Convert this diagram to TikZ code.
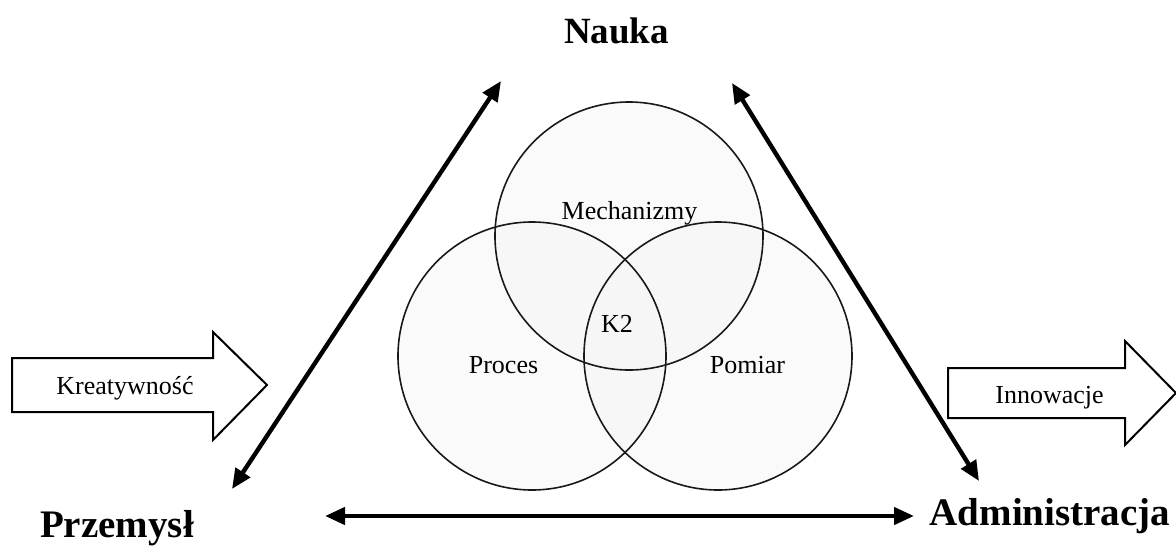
\documentclass[tikz,border=0pt]{standalone}
\usepackage{fontspec}
\setmainfont{Liberation Serif}
\usetikzlibrary{arrows.meta}
\tikzset{
  ringfill/.style={fill=black!4, fill opacity=0.5},
  ringline/.style={draw=black!90, line width=1.6pt},
  label/.style={font=\fontsize{26}{31}\selectfont, anchor=base},
  head/.style={font=\fontsize{39}{46}\selectfont\bfseries, anchor=base},
  link/.style={line width=4.4pt, {Triangle[length=20pt,width=17pt]}-{Triangle[length=20pt,width=17pt]}},
  blockarrow/.style={draw=black, line width=2pt, fill=white, line join=miter}
}
\begin{document}
\begin{tikzpicture}[x=1pt, y=-1pt]
  \useasboundingbox (0,0) rectangle (1176,547);

  % three overlapping circles: shading first, outlines on top
  \coordinate (cm) at (629,236);
  \coordinate (cl) at (532,356);
  \coordinate (cr) at (718,356);
  \fill[ringfill] (cm) circle (134);
  \fill[ringfill] (cl) circle (134);
  \fill[ringfill] (cr) circle (134);
  \draw[ringline] (cm) circle (134);
  \draw[ringline] (cl) circle (134);
  \draw[ringline] (cr) circle (134);

  \node[label] (mech) at (629.5,219) {Mechanizmy};
  \node[label] (k2)   at (617,332) {K2};
  \node[label] (proc) at (503.5,373) {Proces};
  \node[label] (pom)  at (747.5,373) {Pomiar};

  % corner headings
  \node[head, font=\fontsize{37}{44}\selectfont\bfseries] (nauka) at (616.5,43) {Nauka};
  \node[head] (przem) at (117,537) {Przemysł};
  \node[head] (admin) at (1050,525) {Administracja};

  % ends of the two-way links
  \coordinate (nl) at (501,81);
  \coordinate (pr) at (232,489);
  \coordinate (nr) at (732,83);
  \coordinate (ad) at (979,481);
  \coordinate (hl) at (325,516);
  \coordinate (hr) at (914,516);

  \draw[link] (pr) -- (nl);
  \draw[link] (ad) -- (nr);
  \draw[link] (hl) -- (hr);

  % input block arrow
  \draw[blockarrow] (12,358) -- (213,358) -- (213,332) -- (267,385)
     -- (213,440) -- (213,412) -- (12,412) -- cycle;
  \node[label] (kreat) at (125,394) {Kreatywność};

  % output block arrow
  \draw[blockarrow] (948,368) -- (1125,368) -- (1125,341) -- (1176,393)
     -- (1125,445) -- (1125,418) -- (948,418) -- cycle;
  \node[label] (innow) at (1049.5,403) {Innowacje};
\end{tikzpicture}
\end{document}
